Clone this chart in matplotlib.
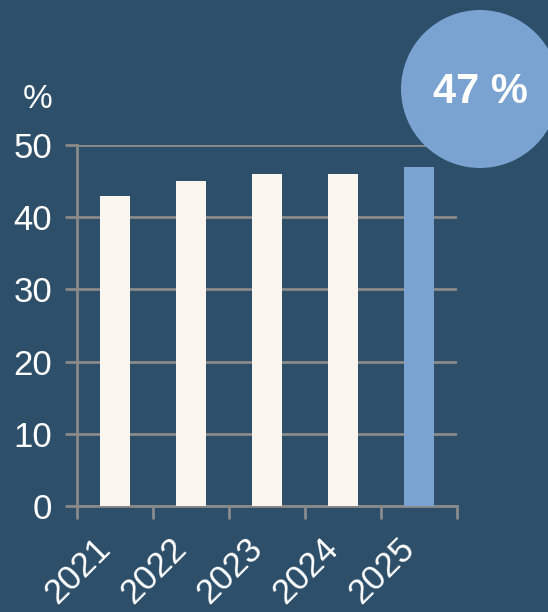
import matplotlib.pyplot as plt
from matplotlib.patches import Ellipse
from matplotlib.transforms import ScaledTranslation
import numpy as np

# data
years = ['2021', '2022', '2023', '2024', '2025']
share = [43, 45, 46, 46, 47]
highlight = '47 %'

BG = '#2d4f6a'
CREAM = '#faf6ef'
BLUE = '#7aa3d2'
GRID = '#8a8a8a'

plt.rcParams['font.family'] = ['Liberation Sans', 'DejaVu Sans']

W, H = 548, 612
fig = plt.figure(figsize=(W / 100, H / 100), dpi=100)
fig.patch.set_facecolor(BG)

ax = fig.add_axes([77 / W, 1 - 506 / H, 380 / W, 361 / H])
ax.set_facecolor(BG)

x = np.arange(len(years))
colors = [CREAM] * (len(years) - 1) + [BLUE]
ax.bar(x, share, width=0.4, color=colors, zorder=3)

ax.set_xlim(-0.5, len(years) - 0.5)
ax.set_ylim(0, 50)
ax.set_yticks(range(0, 51, 10))
ax.yaxis.grid(True, color=GRID, linewidth=2, zorder=0)

# ticks at the category boundaries, labels at the centres
ax.set_xticks(np.arange(-0.5, len(years), 1.0))
ax.set_xticklabels([])
ax.set_xticks(x, minor=True)
ax.set_xticklabels(years, minor=True, rotation=45, ha='right', va='center',
                   rotation_mode='anchor', fontsize=25, color='white')
ax.tick_params(axis='x', which='major', length=9, width=2, color=GRID)
ax.tick_params(axis='x', which='minor', length=0, pad=27)
# nudge the rotated labels a little to the left
shift = ScaledTranslation(-0.10, 0, fig.dpi_scale_trans)
for lab in ax.get_xticklabels(minor=True):
    lab.set_transform(lab.get_transform() + shift)
ax.tick_params(axis='y', length=9, width=2, color=GRID, labelsize=25,
               labelcolor='white', pad=9)

for side in ['top', 'right']:
    ax.spines[side].set_visible(False)
for side in ['left', 'bottom']:
    ax.spines[side].set_color(GRID)
    ax.spines[side].set_linewidth(2)

fig.text(38 / W, 1 - 100 / H, '%', fontsize=24, color='white',
         ha='center', va='center')

# the round badge in the top right corner
r = 79
fig.add_artist(Ellipse((480 / W, 1 - 89 / H), 2 * r / W, 2 * r / H,
                       facecolor=BLUE, edgecolor='none', zorder=5))
fig.text(480 / W, 1 - 92 / H, highlight, fontsize=30, fontweight='bold',
         color='white', ha='center', va='center', zorder=6)

fig.savefig('out.png', dpi=100, facecolor=BG)
